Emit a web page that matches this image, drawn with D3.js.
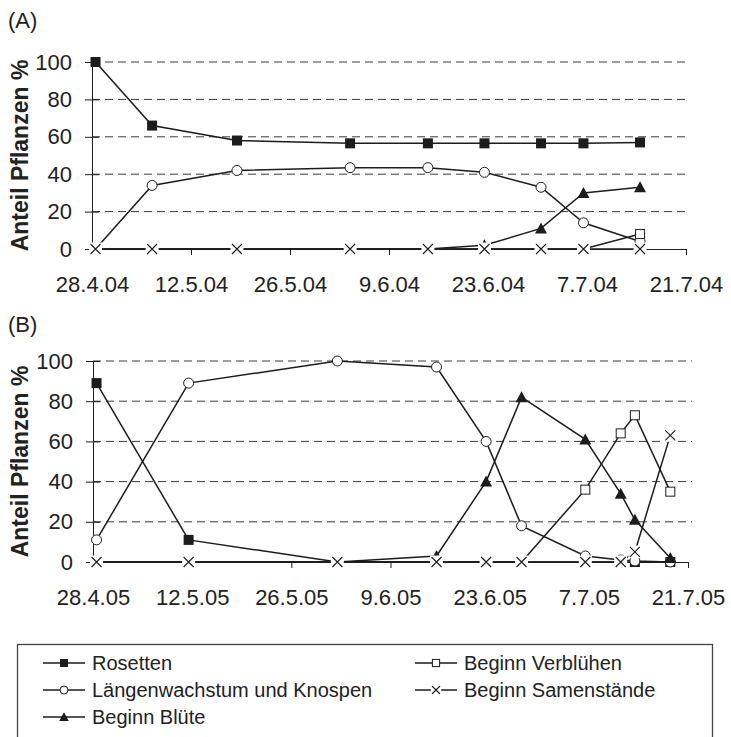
<!DOCTYPE html>
<html>
<head>
<meta charset="utf-8">
<script src="https://cdn.jsdelivr.net/npm/d3@7"></script>
<style>
  body { margin: 0; background: #fff; }
  svg { display: block; font-family: 'Liberation Sans', Arial, Helvetica, sans-serif; }
</style>
</head>
<body>
<div id="chart"></div>
<script>
// Panel (A) 2004
const datesA = ['28.4.04', '6.5.04', '18.5.04', '3.6.04', '14.6.04', '22.6.04', '30.6.04', '6.7.04', '14.7.04'];
const rosettenA = [100, 66, 58, 56.5, 56.5, 56.5, 56.5, 56.5, 57];
const laengenA = [0, 34, 42, 43.5, 43.5, 41, 33, 14, 4];
const bluehteA = [0, 0, 0, 0, 0, 2, 11, 30, 33];
const verbluehenA = [0, 0, 0, 0, 0, 0, 0, 0, 8];
const samenA = [0, 0, 0, 0, 0, 0, 0, 0, 0];

// Panel (B) 2005
const datesB = ['28.4.05', '11.5.05', '1.6.05', '15.6.05', '22.6.05', '27.6.05', '6.7.05', '11.7.05', '13.7.05', '18.7.05'];
const rosettenB = [89, 11, 0, 0, 0, 0, 0, 0, 0, 0];
const laengenB = [11, 89, 100, 97, 60, 18, 3, 1, 0.5, 0];
const bluehteB = [0, 0, 0, 3, 40, 82, 61, 34, 21, 2];
const verbluehenB = [0, 0, 0, 0, 0, 0, 36, 64, 73, 35];
const samenB = [0, 0, 0, 0, 0, 0, 0, 0, 5, 63];

const yTicks = [0, 20, 40, 60, 80, 100];
const xTicksA = ['28.4.04', '12.5.04', '26.5.04', '9.6.04', '23.6.04', '7.7.04', '21.7.04'];
const xTicksB = ['28.4.05', '12.5.05', '26.5.05', '9.6.05', '23.6.05', '7.7.05', '21.7.05'];

const seriesNames = ['Rosetten', 'Längenwachstum und Knospen', 'Beginn Blüte', 'Beginn Verblühen', 'Beginn Samenstände'];
const markerTypes = ['square', 'circle', 'triangle', 'openSquare', 'cross'];

const color = {
  ink: '#1c1c1c',
  text: '#222222',
  grid: '#3a3a3a'
};

const parseDate = d3.timeParse('%d.%m.%y');
const formatDate = (d) => `${d.getDate()}.${d.getMonth() + 1}.${d3.timeFormat('%y')(d)}`;

const svg = d3.select('#chart')
  .append('svg')
  .attr('width', 731)
  .attr('height', 737);

// draw one marker into a group positioned at its point
const drawMarker = (g, type, k = 1) => {
  if (type === 'square') {
    g.append('rect')
      .attr('x', -5 * k).attr('y', -5 * k)
      .attr('width', 10 * k).attr('height', 10 * k)
      .attr('fill', color.ink);
  } else if (type === 'openSquare') {
    g.append('rect')
      .attr('x', -4.5 * k).attr('y', -4.5 * k)
      .attr('width', 9 * k).attr('height', 9 * k)
      .attr('fill', '#fff')
      .attr('stroke', color.ink)
      .attr('stroke-width', 1);
  } else if (type === 'circle') {
    g.append('circle')
      .attr('r', 5 * k)
      .attr('fill', '#fff')
      .attr('stroke', color.ink)
      .attr('stroke-width', 1);
  } else if (type === 'triangle') {
    g.append('path')
      .attr('d', `M0,${-6 * k}L${6 * k},${5 * k}L${-6 * k},${5 * k}Z`)
      .attr('fill', color.ink);
  } else if (type === 'cross') {
    // Excel style x marker with white background box
    g.append('rect')
      .attr('x', -6.5 * k).attr('y', -6.5 * k)
      .attr('width', 13 * k).attr('height', 13 * k)
      .attr('fill', '#fff');
    g.append('path')
      .attr('d', `M${-5 * k},${-5 * k}L${5 * k},${5 * k}M${5 * k},${-5 * k}L${-5 * k},${5 * k}`)
      .attr('stroke', color.ink)
      .attr('stroke-width', 1.1)
      .attr('fill', 'none');
  }
};

const drawPanel = (opts) => {
  const { label, labelY, dates, values, ticks, left, right, top, bottom } = opts;
  const days = dates.map(parseDate);
  const tickDates = ticks.map(parseDate);

  const x = d3.scaleTime()
    .domain([tickDates[0], tickDates[tickDates.length - 1]])
    .range([left, right]);

  const y = d3.scaleLinear()
    .domain([0, 100])
    .range([bottom, top]);

  const g = svg.append('g');

  // panel label
  g.append('text')
    .attr('x', 8)
    .attr('y', labelY)
    .attr('fill', color.text)
    .style('font-size', '22px')
    .text(label);

  // dashed gridlines
  g.append('g')
    .selectAll('line')
    .data(yTicks.filter((t) => t > 0))
    .enter()
    .append('line')
    .attr('x1', left)
    .attr('x2', right + 4)
    .attr('y1', (d) => y(d))
    .attr('y2', (d) => y(d))
    .attr('stroke', color.grid)
    .attr('stroke-width', 1)
    .attr('stroke-dasharray', '8,5');

  // y axis, ticks cross the axis line
  const yAxis = g.append('g')
    .attr('transform', `translate(${left}, 0)`)
    .call(d3.axisLeft(y).tickValues(yTicks).tickSizeInner(7).tickSizeOuter(0).tickPadding(13));
  yAxis.select('.domain').attr('stroke', color.ink);
  yAxis.selectAll('.tick line').attr('x1', 7).attr('stroke', color.ink);
  yAxis.selectAll('.tick text')
    .attr('fill', color.text)
    .style('font-size', '22px')
    .style('font-family', 'inherit');

  // x axis
  const xAxis = g.append('g')
    .attr('transform', `translate(0, ${bottom})`)
    .call(d3.axisBottom(x).tickValues(tickDates).tickFormat(formatDate)
      .tickSizeInner(6).tickSizeOuter(0).tickPadding(21));
  xAxis.select('.domain').attr('stroke', color.ink);
  xAxis.selectAll('.tick line').attr('stroke', color.ink);
  xAxis.selectAll('.tick text')
    .attr('fill', color.text)
    .style('font-size', '22px')
    .style('font-family', 'inherit');

  // axis title
  g.append('text')
    .attr('transform', `translate(28, ${(top + bottom) / 2}) rotate(-90)`)
    .attr('text-anchor', 'middle')
    .attr('fill', color.text)
    .style('font-size', '23px')
    .style('font-weight', 'bold')
    .text('Anteil Pflanzen %');

  // Excel date axis: points sit in the middle of their day
  const px = (i) => x(d3.timeHour.offset(days[i], 12));

  const line = d3.line()
    .x((d, i) => px(i))
    .y((d) => y(d));

  values.forEach((vals, s) => {
    const sg = g.append('g');
    sg.append('path')
      .datum(vals)
      .attr('d', line)
      .attr('fill', 'none')
      .attr('stroke', color.ink)
      .attr('stroke-width', 1.5);

    sg.selectAll('g.marker')
      .data(vals)
      .enter()
      .append('g')
      .attr('class', 'marker')
      .attr('transform', (d, i) => `translate(${px(i)}, ${y(d)})`)
      .each(function () { drawMarker(d3.select(this), markerTypes[s]); });
  });
};

drawPanel({
  label: '(A)',
  labelY: 28,
  dates: datesA,
  values: [rosettenA, laengenA, bluehteA, verbluehenA, samenA],
  ticks: xTicksA,
  left: 92,
  right: 686,
  top: 62,
  bottom: 249
});

drawPanel({
  label: '(B)',
  labelY: 332,
  dates: datesB,
  values: [rosettenB, laengenB, bluehteB, verbluehenB, samenB],
  ticks: xTicksB,
  left: 93,
  right: 688,
  top: 361,
  bottom: 562
});

// legend
const legend = svg.append('g');
legend.append('rect')
  .attr('x', 17.5)
  .attr('y', 644.5)
  .attr('width', 695)
  .attr('height', 120)
  .attr('fill', 'none')
  .attr('stroke', '#444')
  .attr('stroke-width', 1.3);

const legendPos = [
  { x: 43, y: 663 },
  { x: 43, y: 690 },
  { x: 43, y: 717 },
  { x: 415, y: 663 },
  { x: 415, y: 690 }
];

seriesNames.forEach((name, i) => {
  const p = legendPos[i];
  const item = legend.append('g').attr('transform', `translate(${p.x}, ${p.y})`);
  item.append('line')
    .attr('x1', 0).attr('x2', 42)
    .attr('y1', 0).attr('y2', 0)
    .attr('stroke', color.ink)
    .attr('stroke-width', 1.3);
  const m = item.append('g').attr('transform', 'translate(21, 0)');
  drawMarker(m, markerTypes[i], 0.8);
  item.append('text')
    .attr('x', 49)
    .attr('y', 0)
    .attr('dy', '0.35em')
    .attr('fill', color.text)
    .style('font-size', '20px')
    .text(name);
});
</script>
</body>
</html>
